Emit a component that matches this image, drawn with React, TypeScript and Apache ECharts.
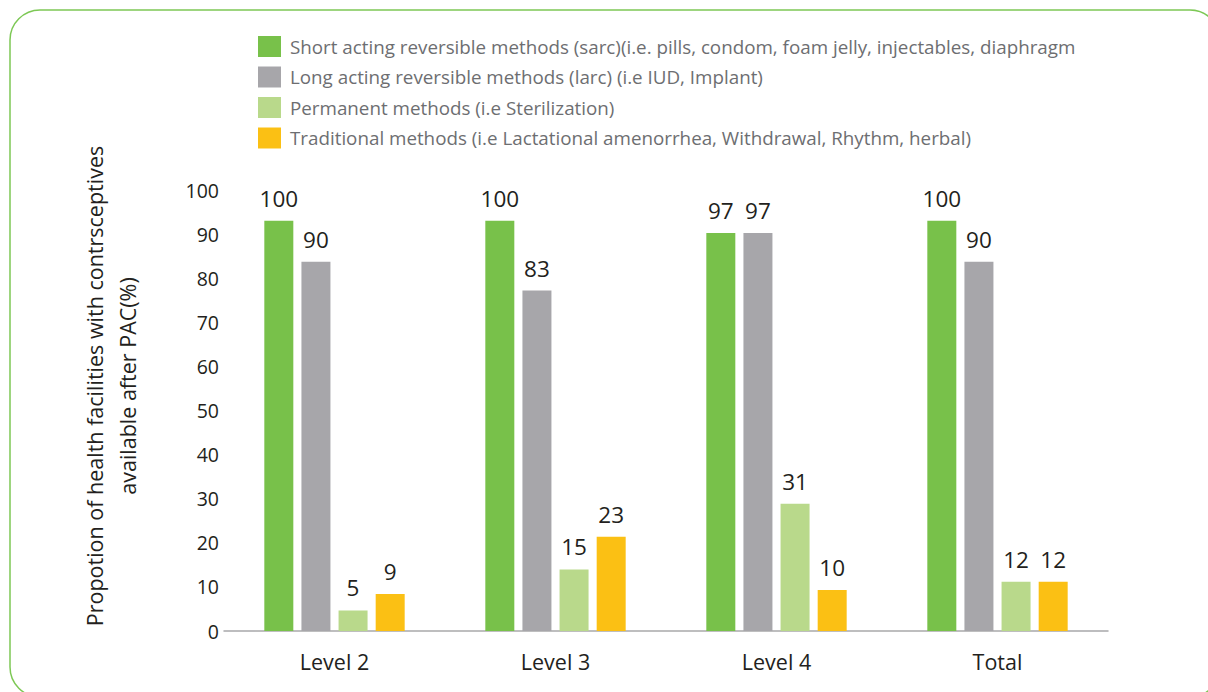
import React, { useEffect, useRef } from "react";
import * as echarts from "echarts";

const categories = ["Level 2", "Level 3", "Level 4", "Total"];
const seriesNames = [
  "Short acting reversible methods (sarc)(i.e. pills, condom, foam jelly, injectables, diaphragm",
  "Long acting reversible methods (larc) (i.e IUD, Implant)",
  "Permanent methods (i.e Sterilization)",
  "Traditional methods (i.e Lactational amenorrhea, Withdrawal, Rhythm, herbal)",
];
const sarc = [100, 100, 97, 100];
const larc = [90, 83, 97, 90];
const permanent = [5, 15, 31, 12];
const traditional = [9, 23, 10, 12];
const seriesValues = [sarc, larc, permanent, traditional];
const colors = ["#78c14a", "#a7a6aa", "#b9d98b", "#fbc014"];
const yTitle = "Propotion of health facilities with contrsceptives\navailable after PAC(%)";

const FONT = "'Open Sans', Lato, sans-serif";

export default function App() {
  const ref = useRef<HTMLDivElement>(null);
  useEffect(() => {
    if (!ref.current) return;
    const chart = echarts.init(ref.current, undefined, { renderer: "svg" });
    chart.setOption({
      animation: false,
      backgroundColor: "#ffffff",
      textStyle: { fontFamily: FONT },
      legend: {
        orient: "vertical",
        left: 253,
        top: 31,
        itemWidth: 23,
        itemHeight: 21,
        itemGap: 9.5,
        icon: "rect",
        data: seriesNames,
        selectedMode: false,
        textStyle: { fontSize: 18.8, color: "#6d6e71", fontFamily: FONT, padding: [0, 0, 0, 4] },
      },
      grid: { left: 224, right: 100, top: 190, bottom: 61, containLabel: false },
      xAxis: {
        type: "category",
        data: categories,
        axisLine: { lineStyle: { color: "#a8a8aa", width: 1.5 } },
        axisTick: { show: false },
        axisLabel: { fontSize: 21.5, color: "#231f20", margin: 19, fontFamily: FONT },
      },
      yAxis: [
        {
          type: "value",
          min: 0,
          max: 100,
          interval: 10,
          splitLine: { show: false },
          axisLine: { show: false },
          axisTick: { show: false },
          axisLabel: { fontSize: 19.5, color: "#231f20", margin: 5, fontFamily: FONT },
        },
        {
          type: "value",
          min: 0,
          max: 107.5,
          show: false,
          splitLine: { show: false },
        },
      ],
      series: seriesValues.map((vals, i) => ({
        name: seriesNames[i],
        type: "bar",
        yAxisIndex: 1,
        data: vals,
        barWidth: 29,
        barGap: "28%",
        itemStyle: { color: colors[i] },
        label: {
          show: true,
          position: "top",
          distance: 11,
          fontSize: 22.5,
          color: "#231f20",
          fontFamily: FONT,
        },
      })),
      graphic: [
        {
          type: "rect",
          shape: { x: 10, y: 10, width: 1210, height: 687, r: 30 },
          style: { fill: "none", stroke: "#7dc855", lineWidth: 1.5 },
          silent: true,
        },
        {
          type: "text",
          x: 111,
          y: 386,
          rotation: Math.PI / 2,
          style: {
            text: yTitle,
            font: `21.5px ${FONT}`,
            fill: "#231f20",
            textAlign: "center",
            textVerticalAlign: "middle",
            lineHeight: 33,
          },
        },
      ],
    });
    return () => chart.dispose();
  }, []);
  return <div ref={ref} style={{ width: 1208, height: 692, position: "absolute", left: 0, top: 0 }} />;
}
